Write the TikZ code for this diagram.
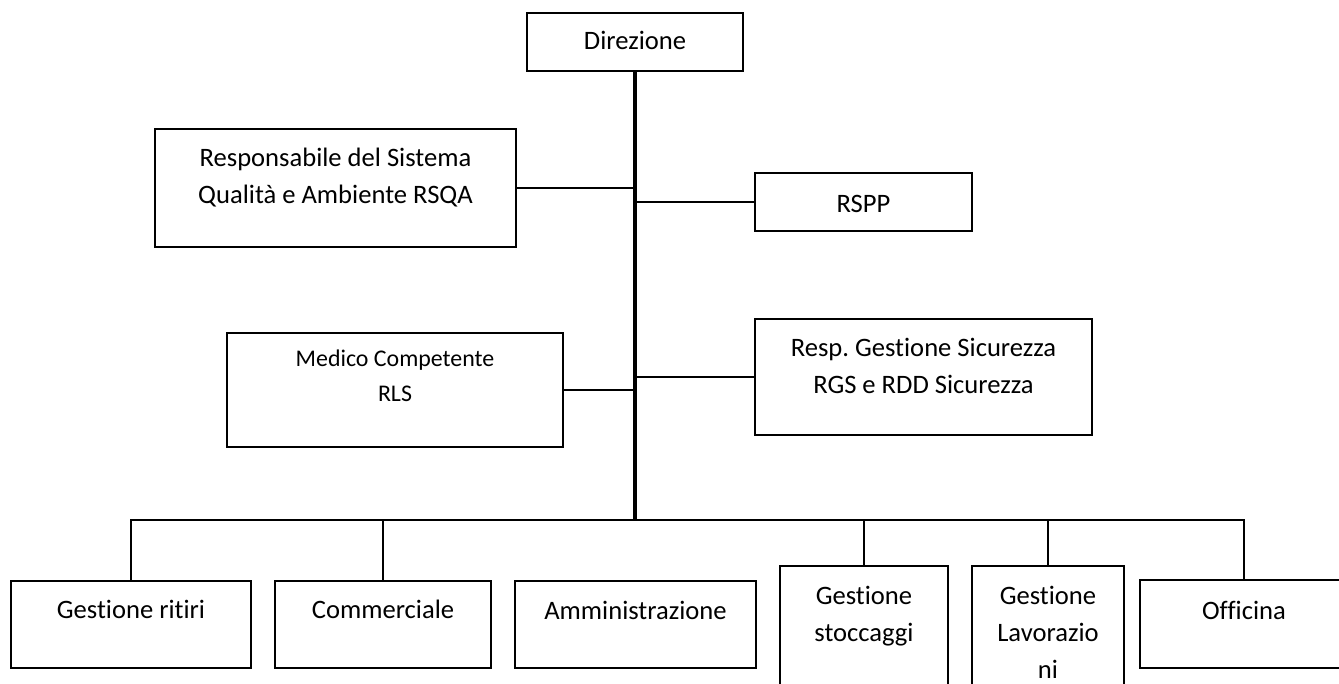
\documentclass[tikz,border=0pt]{standalone}
\usepackage{fontspec}
\setmainfont{Carlito}[Ligatures={NoCommon}]
\frenchspacing
\begin{document}
\begin{tikzpicture}[x=1pt,y=-1pt,
  box/.style={draw=black,line width=1.6pt,rectangle,inner sep=0pt,outer sep=0pt},
  txt/.style={anchor=north,align=center,inner sep=0pt,outer sep=0pt,font=\fontsize{26.6}{37}\selectfont,execute at begin node=\strut},
  smalltxt/.style={txt,font=\fontsize{23.9}{35}\selectfont},
  spine/.style={line width=3.2pt},
  link/.style={line width=1.6pt},
  bus/.style={line width=1.8pt}]
\useasboundingbox (0,0) rectangle (1339,683);

% boxes
\node[box,minimum width=216pt,minimum height=58pt]  (dir)    at (635,42) {};
\node[box,minimum width=361pt,minimum height=118pt] (rsqa)   at (335.5,188) {};
\node[box,minimum width=217pt,minimum height=58pt]  (rspp)   at (863.5,202) {};
\node[box,minimum width=336pt,minimum height=114pt] (medico) at (395,390) {};
\node[box,minimum width=337pt,minimum height=116pt] (resp)   at (923.5,377) {};
\node[box,minimum width=240pt,minimum height=87pt]  (ritiri) at (131,624.5) {};
\node[box,minimum width=216pt,minimum height=87pt]  (comm)   at (383,624.5) {};
\node[box,minimum width=241pt,minimum height=87pt]  (ammin)  at (635.5,624.5) {};
\node[box,minimum width=168pt,minimum height=134pt] (stocc)  at (864,633) {};
\node[box,minimum width=152pt,minimum height=134pt] (lavor)  at (1048,633) {};
\node[box,minimum width=208pt,minimum height=88pt]  (offic)  at (1244,624) {};

% texts
\node[txt] (dir-t)    at ([yshift=-10.6pt]dir.north)    {Direzione};
\node[txt] (rsqa-t)   at ([yshift=-18.6pt]rsqa.north)   {Responsabile del Sistema\\Qualità e Ambiente RSQA};
\node[txt] (rspp-t)   at ([yshift=-13.1pt]rspp.north)   {RSPP};
\node[smalltxt] (medico-t) at ([yshift=-17pt]medico.north) {Medico Competente\\RLS};
\node[txt] (resp-t)   at ([yshift=-19.1pt]resp.north)   {Resp. Gestione Sicurezza\\RGS e RDD Sicurezza};
\node[txt] (ritiri-t) at ([yshift=-11.1pt]ritiri.north) {Gestione ritiri};
\node[txt] (comm-t)   at ([yshift=-11.1pt]comm.north)   {Commerciale};
\node[txt] (ammin-t)  at ([yshift=-12.1pt]ammin.north)  {Amministrazione};
\node[txt] (stocc-t)  at ([yshift=-20.6pt]stocc.north)  {Gestione\\stoccaggi};
\node[txt] (lavor-t)  at ([yshift=-20.6pt]lavor.north)  {Gestione\\Lavorazio\\ni};
\node[txt] (offic-t)  at ([yshift=-13.1pt]offic.north)  {Officina};

% connectors
\coordinate (spineEnd) at (635,520);
\draw[spine] (dir.south) -- (spineEnd);
\draw[link] (rsqa.east) -- (rsqa.east -| spineEnd);
\draw[link] (rspp.west) -- (rspp.west -| spineEnd);
\draw[link] (medico.east) -- (medico.east -| spineEnd);
\draw[link] (resp.west) -- (resp.west -| spineEnd);
\draw[bus] (ritiri.north) |- (spineEnd) -| (offic.north);
\draw[link] (comm.north) -- (comm.north |- spineEnd);
\draw[link] (stocc.north) -- (stocc.north |- spineEnd);
\draw[link] (lavor.north) -- (lavor.north |- spineEnd);
\end{tikzpicture}
\end{document}
